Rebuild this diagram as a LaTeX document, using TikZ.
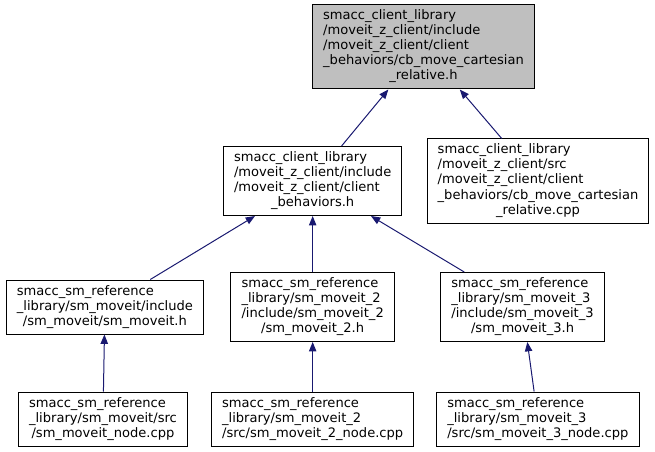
\documentclass[tikz,border=0pt]{standalone}
\usepackage{fontspec}
\setmainfont{DejaVu Sans}
\usepackage{tikz}
\usetikzlibrary{positioning,arrows.meta}
\definecolor{edgeblue}{HTML}{191970}
\definecolor{topgray}{HTML}{BFBFBF}
\newcommand{\flines}[1]{\begin{tabular}{@{}l@{}}#1\end{tabular}}
\newcommand{\lastln}[1]{\multicolumn{1}{@{}c@{}}{#1}}

\begin{document}
\begin{tikzpicture}[
    file/.style={draw=black, line width=0.75pt, fill=white, inner xsep=8pt, inner ysep=3.375pt, font=\fontsize{9.8}{11.25}\selectfont},
    dep/.style={edgeblue, line width=0.75pt, -{Triangle[length=7pt,width=5.5pt]}}
  ]
    \useasboundingbox (0,0) rectangle (491.25pt,-339pt);

    % header under documentation
    \node[file, fill=topgray] (cb_rel_h) at (317.6pt,-35.25pt) {\flines{smacc\_client\_library\\/moveit\_z\_client/include\\/moveit\_z\_client/client\\\_behaviors/cb\_move\_cartesian\\\lastln{\_relative.h}}};

    % files that include it
    \node[file, below of=cb_rel_h, node distance=100.5pt, xshift=-83.1pt] (behaviors_h) {\flines{smacc\_client\_library\\/moveit\_z\_client/include\\/moveit\_z\_client/client\\\lastln{\_behaviors.h}}};
    \node[file, below of=cb_rel_h, node distance=100.5pt, xshift=85.9pt] (cb_rel_cpp) {\flines{smacc\_client\_library\\/moveit\_z\_client/src\\/moveit\_z\_client/client\\\_behaviors/cb\_move\_cartesian\\\lastln{\_relative.cpp}}};

    \node[file, below of=behaviors_h, node distance=94.5pt, xshift=-155.8pt] (sm_moveit_h) {\flines{smacc\_sm\_reference\\\_library/sm\_moveit/include\\\lastln{/sm\_moveit/sm\_moveit.h}}};
    \node[file, below of=behaviors_h, node distance=94.5pt] (sm_moveit2_h) {\flines{smacc\_sm\_reference\\\_library/sm\_moveit\_2\\/include/sm\_moveit\_2\\\lastln{/sm\_moveit\_2.h}}};
    \node[file, below of=behaviors_h, node distance=94.5pt, xshift=157.4pt] (sm_moveit3_h) {\flines{smacc\_sm\_reference\\\_library/sm\_moveit\_3\\/include/sm\_moveit\_3\\\lastln{/sm\_moveit\_3.h}}};

    \node[file, below of=sm_moveit_h, node distance=84pt, xshift=-1.5pt] (sm_moveit_node) {\flines{smacc\_sm\_reference\\\_library/sm\_moveit/src\\\lastln{/sm\_moveit\_node.cpp}}};
    \node[file, below of=sm_moveit2_h, node distance=84pt] (sm_moveit2_node) {\flines{smacc\_sm\_reference\\\_library/sm\_moveit\_2\\\lastln{/src/sm\_moveit\_2\_node.cpp}}};
    \node[file, below of=sm_moveit3_h, node distance=84pt, xshift=11.5pt] (sm_moveit3_node) {\flines{smacc\_sm\_reference\\\_library/sm\_moveit\_3\\\lastln{/src/sm\_moveit\_3\_node.cpp}}};

    % include edges
    \draw[dep] (behaviors_h) -- (cb_rel_h);
    \draw[dep] (cb_rel_cpp) -- (cb_rel_h);
    \draw[dep] (sm_moveit_h) -- (behaviors_h);
    \draw[dep] (sm_moveit2_h) -- (behaviors_h);
    \draw[dep] (sm_moveit3_h) -- (behaviors_h);
    \draw[dep] (sm_moveit_node) -- (sm_moveit_h);
    \draw[dep] (sm_moveit2_node) -- (sm_moveit2_h);
    \draw[dep] (sm_moveit3_node) -- (sm_moveit3_h);
\end{tikzpicture}
\end{document}
